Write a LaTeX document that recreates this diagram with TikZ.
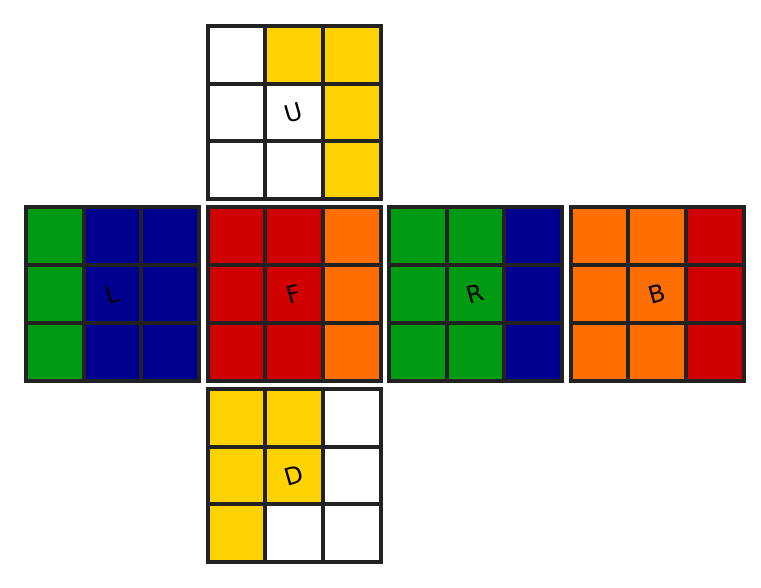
\documentclass[tikz,border=0pt]{standalone}
\usepackage{fontspec}
\setmainfont{DejaVu Sans}
\definecolor{edge}{HTML}{222222}
\definecolor{wh}{HTML}{FFFFFF}
\definecolor{ye}{HTML}{FFD200}
\definecolor{gr}{HTML}{009B12}
\definecolor{bl}{HTML}{000090}
\definecolor{rd}{HTML}{D00000}
\definecolor{or}{HTML}{FF6E00}
\begin{document}
\begin{tikzpicture}[x=1pt,y=1pt,
    cell/.style={line width=4pt,draw=edge},
    facelbl/.style={rotate=16,inner sep=0pt,font=\fontsize{24}{24}\selectfont}]
    \useasboundingbox (0,0) rectangle (761,-588);
    \foreach \f/\fx/\fy/\cols in {
    U/1/0/{wh,ye,ye,wh,wh,ye,wh,wh,ye},
    L/0/1/{gr,bl,bl,gr,bl,bl,gr,bl,bl},
    F/1/1/{rd,rd,or,rd,rd,or,rd,rd,or},
    R/2/1/{gr,gr,bl,gr,gr,bl,gr,gr,bl},
    B/3/1/{or,or,rd,or,or,rd,or,or,rd},
    D/1/2/{ye,ye,wh,ye,ye,wh,ye,wh,wh}}{
    \foreach \c [count=\i from 0] in \cols {
    \pgfmathtruncatemacro\col{mod(\i,3)}
    \pgfmathtruncatemacro\row{\i/3}
    \draw[cell,fill=\c] (26+181.5*\fx+57.67*\col,-26-181.5*\fy-57.67*\row) rectangle ++(57.67,-57.67);
    }
    \node[facelbl] (face\f) at (26+181.5*\fx+86.5,-26-181.5*\fy-86.5) {\f};
    }
    \end{tikzpicture}
\end{document}
